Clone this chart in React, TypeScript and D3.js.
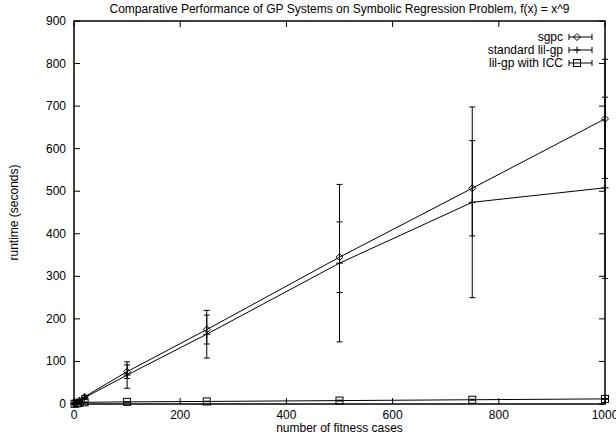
import React, { useEffect, useRef } from 'react'
import * as d3 from 'd3'

// fitness cases (x)
const cases = [1, 5, 10, 20, 100, 250, 500, 750, 1000]

// mean runtimes
const sgpc = [1, 4, 8, 17, 76, 175, 345, 507, 670]
const lilgp = [1, 3.5, 7, 15, 68, 164, 331, 474, 508]
const lilgpICC = [0.5, 1.5, 2.5, 4, 5, 6, 8, 10, 12]

// half widths of the error bars
const sgpcErr = [0.5, 1, 2, 3, 16, 34, 83, 112, 140]
const lilgpErr = [0.5, 1, 2, 4, 31, 56, 185, 224, 213]
const iccErr = [0, 0, 0, 0.5, 0.5, 0.5, 1, 1, 1]

const xTicks = [0, 200, 400, 600, 800, 1000]
const yTicks = [0, 100, 200, 300, 400, 500, 600, 700, 800, 900]

const seriesNames = ['sgpc', 'standard lil-gp', 'lil-gp with ICC']

export default function App() {
    const svgRef = useRef<SVGSVGElement>(null)

    useEffect(() => {
        const W = 616
        const H = 436
        const left = 74
        const right = 605
        const top = 21
        const bottom = 404
        const font = 'Liberation Sans, Arial, sans-serif'
        const fs = 12

        const svg = d3.select(svgRef.current)
        svg.selectAll('*').remove()
        svg.attr('width', W).attr('height', H)

        const x = d3.scaleLinear().domain([0, 1000]).range([left, right])
        const y = d3.scaleLinear().domain([0, 900]).range([bottom, top])

        svg.append('rect').attr('width', W).attr('height', H).attr('fill', '#fff')

        // ticks, mirrored on all four sides
        const tk = 6
        const g = svg.append('g').attr('stroke', '#000').attr('stroke-width', 1)
        yTicks.forEach((v) => {
            g.append('line').attr('x1', left).attr('x2', left + tk).attr('y1', y(v)).attr('y2', y(v))
            g.append('line').attr('x1', right).attr('x2', right - tk).attr('y1', y(v)).attr('y2', y(v))
        })
        xTicks.forEach((v) => {
            g.append('line').attr('x1', x(v)).attr('x2', x(v)).attr('y1', bottom).attr('y2', bottom - tk)
            g.append('line').attr('x1', x(v)).attr('x2', x(v)).attr('y1', top).attr('y2', top + tk)
        })

        svg.append('g')
            .selectAll('text')
            .data(yTicks)
            .enter()
            .append('text')
            .attr('x', left - 8)
            .attr('y', (d) => y(d) + 4)
            .attr('text-anchor', 'end')
            .attr('font-family', font)
            .attr('font-size', fs)
            .text((d) => d)

        svg.append('g')
            .selectAll('text')
            .data(xTicks)
            .enter()
            .append('text')
            .attr('x', (d) => x(d))
            .attr('y', bottom + 15)
            .attr('text-anchor', 'middle')
            .attr('font-family', font)
            .attr('font-size', fs)
            .text((d) => d)

        const text = (tx: number, ty: number, s: string, anchor = 'middle') =>
            svg.append('text')
                .attr('x', tx)
                .attr('y', ty)
                .attr('text-anchor', anchor)
                .attr('font-family', font)
                .attr('font-size', fs)
                .text(s)

        text((left + right) / 2, 13, 'Comparative Performance of GP Systems on Symbolic Regression Problem, f(x) = x^9')
        text((left + right) / 2, 432, 'number of fitness cases')
        text(0, 0, 'runtime (seconds)')
            .attr('transform', `translate(18, ${(top + bottom) / 2}) rotate(-90)`)

        const plot = svg.append('g').attr('fill', 'none').attr('stroke', '#000')

        const line = d3.line<number>().x((d, i) => x(cases[i])).y((d) => y(d))

        const diamond = (p: d3.Selection<any, any, any, any>, cx: number, cy: number) =>
            p.append('path')
                .attr('d', `M${cx},${cy - 3.5}L${cx + 3.5},${cy}L${cx},${cy + 3.5}L${cx - 3.5},${cy}Z`)
                .attr('stroke-width', 1)
        const plus = (p: d3.Selection<any, any, any, any>, cx: number, cy: number) =>
            p.append('path')
                .attr('d', `M${cx - 3.5},${cy}H${cx + 3.5}M${cx},${cy - 3.5}V${cy + 3.5}`)
                .attr('stroke-width', 1)
        const square = (p: d3.Selection<any, any, any, any>, cx: number, cy: number) =>
            p.append('rect')
                .attr('x', cx - 3.5)
                .attr('y', cy - 3.5)
                .attr('width', 7)
                .attr('height', 7)
                .attr('stroke-width', 1)

        const series = [
            { vals: sgpc, err: sgpcErr, mark: diamond },
            { vals: lilgp, err: lilgpErr, mark: plus },
            { vals: lilgpICC, err: iccErr, mark: square },
        ]

        series.forEach((s) => {
            plot.append('path').attr('d', line(s.vals)).attr('stroke-width', 1)
            s.vals.forEach((v, i) => {
                const cx = x(cases[i])
                const lo = y(Math.max(0, v - s.err[i]))
                const hi = y(v + s.err[i])
                plot.append('path')
                    .attr('d', `M${cx},${lo}V${hi}M${cx - 3},${lo}H${cx + 3}M${cx - 3},${hi}H${cx + 3}`)
                    .attr('stroke-width', 1)
                s.mark(plot, cx, y(v))
            })
        })

        // frame
        svg.append('rect')
            .attr('x', left)
            .attr('y', top)
            .attr('width', right - left)
            .attr('height', bottom - top)
            .attr('fill', 'none')
            .attr('stroke', '#000')
            .attr('stroke-width', 1.5)

        // legend
        seriesNames.forEach((name, i) => {
            const ly = 37 + i * 13
            text(563, ly + 4, name, 'end')
            const lg = svg.append('g').attr('fill', 'none').attr('stroke', '#000')
            lg.append('path')
                .attr('d', `M569,${ly}H592M569,${ly - 3}V${ly + 3}M592,${ly - 3}V${ly + 3}`)
                .attr('stroke-width', 1)
            series[i].mark(lg, 577, ly)
        })
    }, [])

    return <svg ref={svgRef} style={{ position: 'absolute', left: 0, top: 0 }} />
}
